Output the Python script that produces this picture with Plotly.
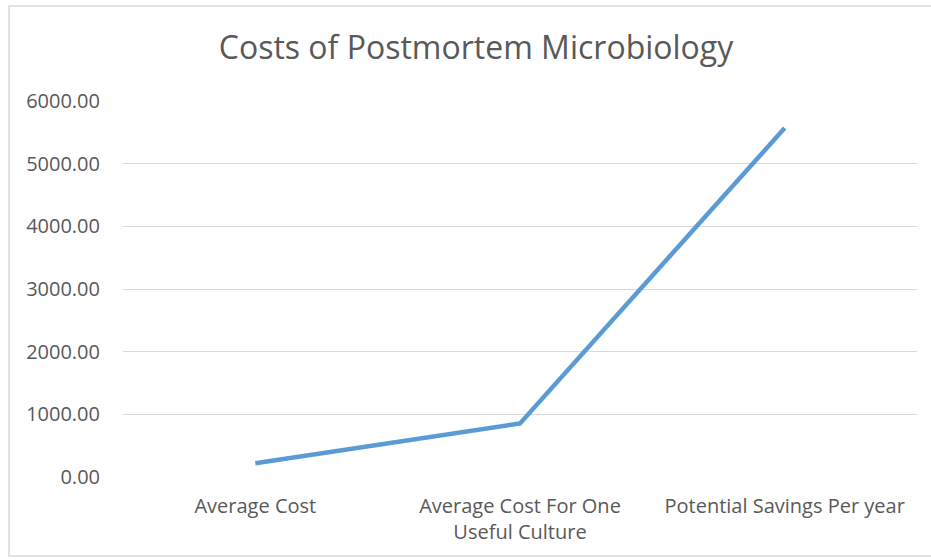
import plotly.graph_objects as go

categories = ["Average Cost", "Average Cost For One<br>Useful Culture", "Potential Savings Per year"]
values = [220, 855, 5570]
y_ticks = [0, 1000, 2000, 3000, 4000, 5000, 6000]
y_tick_labels = ["0.00", "1000.00", "2000.00", "3000.00", "4000.00", "5000.00", "6000.00"]

W, H = 931, 560
L, R, T, B = 123, 14, 101, 83

fig = go.Figure()
fig.add_trace(go.Scatter(
    x=categories, y=values, mode="lines",
    line=dict(color="#5B9BD5", width=4.5),
    hoverinfo="skip",
))

fig.update_layout(
    width=W, height=H,
    margin=dict(l=L, r=R, t=T, b=B, pad=0, autoexpand=False),
    paper_bgcolor="white", plot_bgcolor="white",
    showlegend=False,
    font=dict(family="'Open Sans', sans-serif", color="#595959", size=20),
    title=dict(text="Costs of Postmortem Microbiology", x=476 / W, xanchor="center",
               y=1 - 48 / H, yanchor="middle",
               font=dict(size=32, color="#595959", family="'Open Sans', sans-serif")),
    xaxis=dict(range=[-0.5, 2.5], showgrid=False, showline=False, zeroline=False, ticks="",
               ticklabelstandoff=15, automargin=False,
               tickfont=dict(size=20, color="#595959")),
    yaxis=dict(range=[0, 6000], tickvals=y_ticks, ticktext=y_tick_labels,
               showgrid=True, gridcolor="#D9D9D9", gridwidth=1, automargin=False,
               zeroline=False, showline=False, ticks="",
               ticklabelstandoff=22, tickfont=dict(size=20, color="#595959")),
    shapes=[dict(type="rect", xref="paper", yref="paper",
                 x0=-(L - 9) / (W - L - R), x1=1 + (R + 5) / (W - L - R),
                 y0=-(B - 4) / (H - T - B), y1=1 + (T - 6) / (H - T - B),
                 line=dict(color="#D9D9D9", width=1.5), fillcolor="rgba(0,0,0,0)",
                 layer="below")],
)

fig.write_html("out.html", config={"displayModeBar": False},
               post_script="document.body.style.margin='0';document.body.style.overflow='hidden';")
